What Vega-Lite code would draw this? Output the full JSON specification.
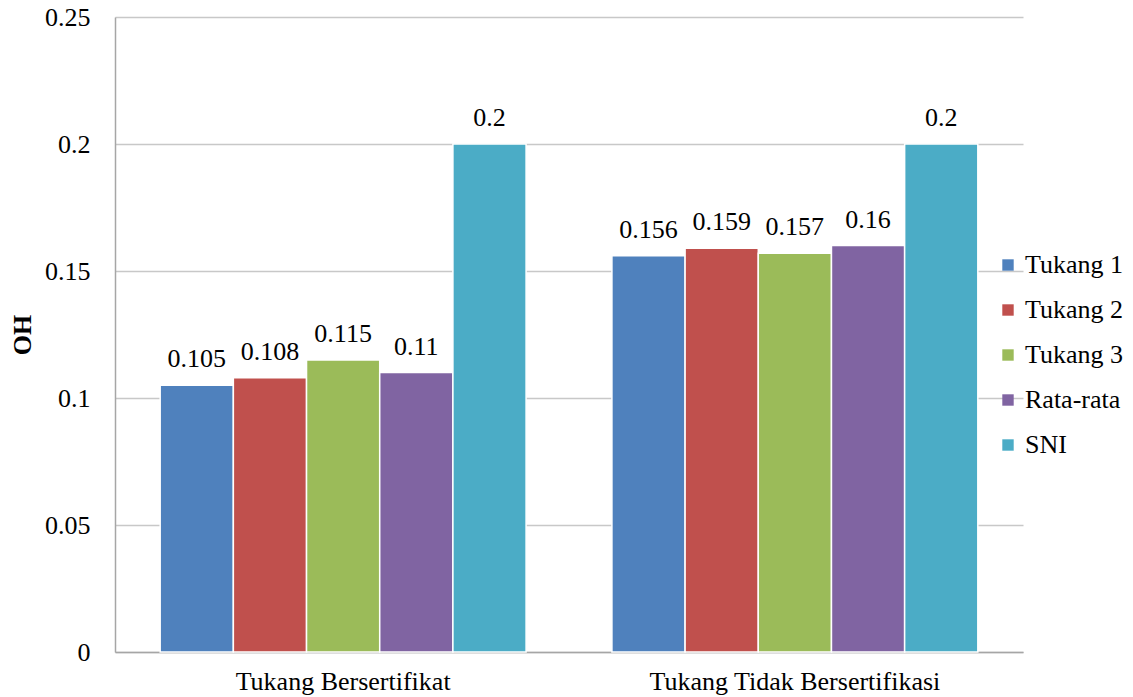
{
  "$schema": "https://vega.github.io/schema/vega-lite/v6.json",
  "width": 908,
  "height": 635,
  "autosize": {"type": "none"},
  "padding": {"left": 115, "top": 17, "right": 110, "bottom": 45},
  "background": "white",
  "config": {
    "view": {"stroke": null},
    "font": "Liberation Serif",
    "axis": {"labelFont": "Liberation Serif", "titleFont": "Liberation Serif", "labelColor": "black", "titleColor": "black"}
  },
  "data": {
    "values": [
      {"group": "Tukang Bersertifikat", "series": "Tukang 1", "value": 0.105, "label": "0.105"},
      {"group": "Tukang Bersertifikat", "series": "Tukang 2", "value": 0.108, "label": "0.108"},
      {"group": "Tukang Bersertifikat", "series": "Tukang 3", "value": 0.115, "label": "0.115"},
      {"group": "Tukang Bersertifikat", "series": "Rata-rata", "value": 0.11, "label": "0.11"},
      {"group": "Tukang Bersertifikat", "series": "SNI", "value": 0.2, "label": "0.2"},
      {"group": "Tukang Tidak Bersertifikasi", "series": "Tukang 1", "value": 0.156, "label": "0.156"},
      {"group": "Tukang Tidak Bersertifikasi", "series": "Tukang 2", "value": 0.159, "label": "0.159"},
      {"group": "Tukang Tidak Bersertifikasi", "series": "Tukang 3", "value": 0.157, "label": "0.157"},
      {"group": "Tukang Tidak Bersertifikasi", "series": "Rata-rata", "value": 0.16, "label": "0.16"},
      {"group": "Tukang Tidak Bersertifikasi", "series": "SNI", "value": 0.2, "label": "0.2"}
    ]
  },
  "encoding": {
    "x": {
      "field": "group", "type": "nominal", "sort": null,
      "scale": {"paddingInner": 0.19, "paddingOuter": 0.1},
      "axis": {"title": null, "labelAngle": 0, "labelFontSize": 26, "labelPadding": 16, "labelLimit": 0, "ticks": false, "domainColor": "#a6a6a6", "domainWidth": 1.5}
    },
    "xOffset": {
      "field": "series", "type": "nominal",
      "sort": ["Tukang 1", "Tukang 2", "Tukang 3", "Rata-rata", "SNI"],
      "scale": {"paddingInner": 0, "paddingOuter": 0}
    },
    "y": {
      "field": "value", "type": "quantitative",
      "scale": {"domain": [0, 0.25], "nice": false},
      "axis": {
        "title": "OH", "titleFontSize": 26, "titleFontWeight": "bold", "titlePadding": 9,
        "values": [0, 0.05, 0.1, 0.15, 0.2, 0.25],
        "labelExpr": "datum.value == 0 ? '0' : format(datum.value, '.2~f')",
        "labelFontSize": 26, "labelPadding": 25, "ticks": false,
        "domainColor": "#a6a6a6", "domainWidth": 1.5,
        "grid": true, "gridColor": "#c8c8c8", "gridWidth": 1.5
      }
    }
  },
  "layer": [
    {
      "mark": {"type": "bar", "stroke": "white", "strokeWidth": 1.5},
      "encoding": {
        "color": {
          "field": "series", "type": "nominal",
          "sort": ["Tukang 1", "Tukang 2", "Tukang 3", "Rata-rata", "SNI"],
          "scale": {
            "domain": ["Tukang 1", "Tukang 2", "Tukang 3", "Rata-rata", "SNI"],
            "range": ["#4f81bd", "#c0504d", "#9bbb59", "#8064a2", "#4bacc6"]
          },
          "legend": {
            "title": null, "orient": "none", "legendX": 880, "legendY": 235,
            "symbolType": "square", "symbolSize": 130, "symbolStrokeWidth": 0,
            "labelFontSize": 26, "labelFont": "Liberation Serif", "labelColor": "black",
            "rowPadding": 19, "labelOffset": 4, "labelLimit": 0
          }
        }
      }
    },
    {
      "mark": {"type": "text", "fontSize": 26, "font": "Liberation Serif", "color": "black", "baseline": "alphabetic", "dy": -18},
      "encoding": {"text": {"field": "label"}}
    }
  ]
}
